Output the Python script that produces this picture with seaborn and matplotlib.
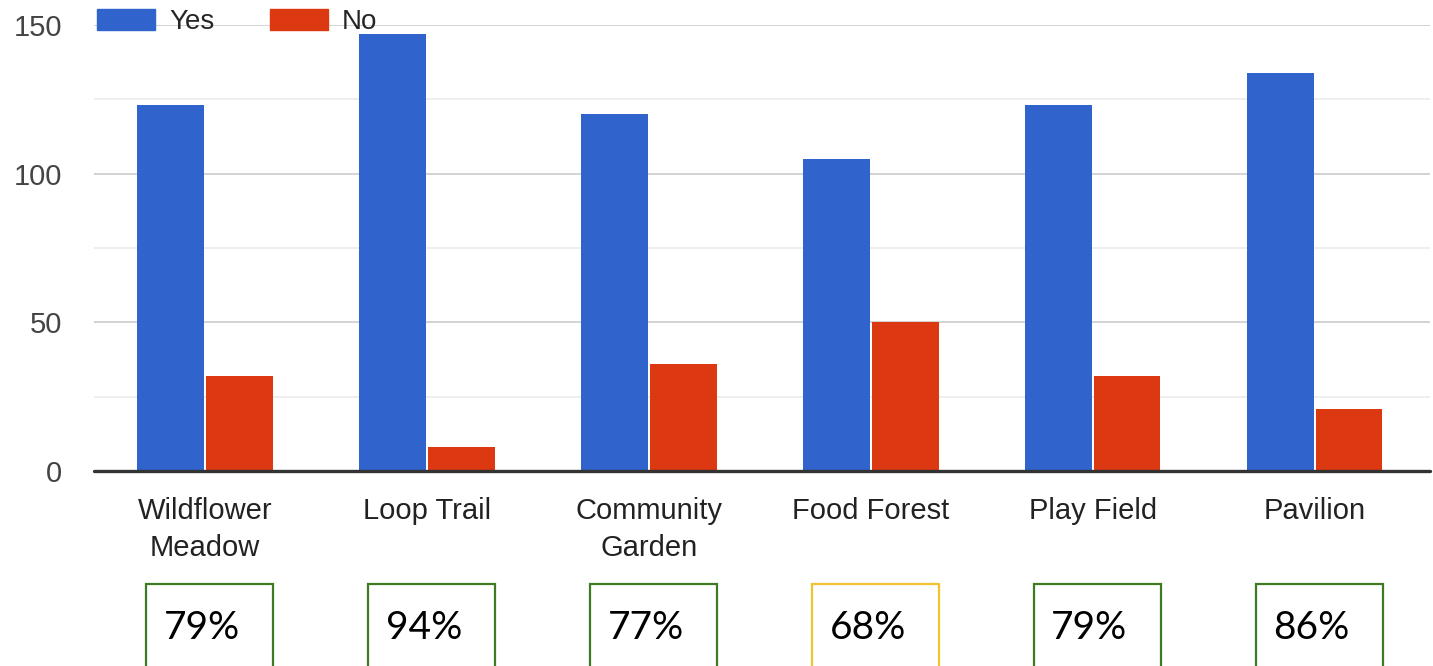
import pandas as pd
import matplotlib.pyplot as plt
import matplotlib.patches as mpatches
import matplotlib.transforms as mtransforms
import seaborn as sns

# Daten
features = ["Wildflower\nMeadow", "Loop Trail", "Community\nGarden",
            "Food Forest", "Play Field", "Pavilion"]
yes_votes = [123, 147, 120, 105, 123, 134]
no_votes = [32, 8, 36, 50, 32, 21]
pct_labels = ["79%", "94%", "77%", "68%", "79%", "86%"]
box_colors = ["#3d7a23", "#3d7a23", "#3d7a23", "#f2c233", "#3d7a23", "#3d7a23"]

df = pd.DataFrame({
    "feature": features * 2,
    "answer": ["Yes"] * len(features) + ["No"] * len(features),
    "votes": yes_votes + no_votes,
})

sns.set_style("white")
plt.rcParams["font.family"] = ["Liberation Sans", "DejaVu Sans"]

fig = plt.figure(figsize=(14.33, 6.66), dpi=100)
ax = fig.add_axes([94 / 1433, 195 / 666, 1336 / 1433, 446 / 666])

sns.barplot(data=df, x="feature", y="votes", hue="answer", order=features,
            hue_order=["Yes", "No"], palette={"Yes": "#3064cc", "No": "#dc3912"},
            width=0.62, gap=0.03, linewidth=0, saturation=1, ax=ax)

ax.set_xlim(-0.5, 5.52)
ax.set_ylim(0, 150)
ax.set_yticks([0, 50, 100, 150])
ax.set_yticks([25, 75, 125], minor=True)
ax.grid(True, which="major", axis="y", color="#cccccc", linewidth=1.2)
ax.grid(True, which="minor", axis="y", color="#ebebeb", linewidth=1.2)
ax.set_axisbelow(True)
ax.axhline(0, color="#333333", linewidth=2.4, zorder=3, clip_on=False)
for s in ax.spines.values():
    s.set_visible(False)

ax.tick_params(axis="y", which="both", length=0, pad=23, labelsize=21, labelcolor="#444444")
ax.tick_params(axis="x", length=0, pad=19, labelsize=21, labelcolor="#222222")
for lbl in ax.get_xticklabels():
    lbl.set_linespacing(1.4)
ax.set_xlabel("")
ax.set_ylabel("")

# Legende oben links
handles = [mpatches.Patch(color="#3064cc", label="Yes"),
           mpatches.Patch(color="#dc3912", label="No")]
ax.legend(handles=handles, loc="center left", bbox_to_anchor=(72 / 1433, 1 - 22 / 666),
          bbox_transform=fig.transFigure, ncol=2, frameon=False, fontsize=20,
          handlelength=2.1, handleheight=0.8, handletextpad=0.5, columnspacing=2.0)

# Prozent-Kästchen unter den Kategorien
trans = mtransforms.blended_transform_factory(ax.transData, ax.transAxes)
box_w = 127 / 221.8
for i, (txt, col) in enumerate(zip(pct_labels, box_colors)):
    rect = mpatches.Rectangle((i - box_w / 2 + 0.02, -0.54), box_w, 0.287,
                              transform=trans, fill=False, edgecolor=col,
                              linewidth=1.6, clip_on=False)
    ax.add_patch(rect)
    ax.text(i - box_w / 2 + 0.1, -0.352, txt, transform=trans, ha="left", va="center",
            fontsize=28, color="black", family=["Lato", "DejaVu Sans"])

plt.savefig("out.png", dpi=100)
